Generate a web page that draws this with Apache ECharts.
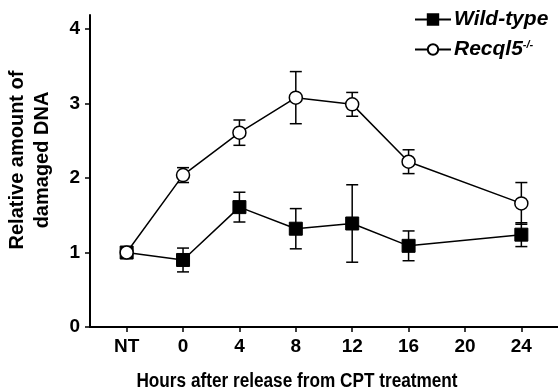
<!DOCTYPE html>
<html>
<head>
<meta charset="utf-8">
<script src="https://cdn.jsdelivr.net/npm/echarts@6/dist/echarts.min.js"></script>
<style>
html,body{margin:0;padding:0;background:#fff;}
#c{width:558px;height:392px;}
</style>
</head>
<body>
<div id="c"></div>
<script>
// Axis tick labels and their hour positions
const tickLabels = ['NT', '0', '4', '8', '12', '16', '20', '24'];
const tickHours = [-4, 0, 4, 8, 12, 16, 20, 24];
const yTicks = [0, 1, 2, 3, 4];

// Sampled time points (no sample at 20 h)
const pointLabels = ['NT', '0', '4', '8', '12', '16', '24'];

// Wild-type (filled squares)
const wildType = [1.00, 0.90, 1.61, 1.32, 1.39, 1.09, 1.24];
const wildTypeErr = [0.00, 0.16, 0.20, 0.27, 0.52, 0.20, 0.16];

// Recql5-/- (open circles)
const recql5 = [1.00, 2.04, 2.61, 3.08, 2.99, 2.22, 1.66];
const recql5Err = [0.00, 0.10, 0.17, 0.35, 0.16, 0.16, 0.28];

const FONT = "'Liberation Sans', Arial, sans-serif";
const hourOf = l => tickHours[tickLabels.indexOf(l)];
const labelOf = h => tickLabels[tickHours.indexOf(h)];

const pts = vals => pointLabels.map((l, i) => [hourOf(l), vals[i]]);
const errs = (vals, e) => pointLabels.map((l, i) => [hourOf(l), vals[i] - e[i], vals[i] + e[i]]);

function errRender(params, api) {
  const x = api.value(0);
  const lo = api.coord([x, api.value(1)]);
  const hi = api.coord([x, api.value(2)]);
  const cw = 6;
  const st = { stroke: '#000', lineWidth: 1.5 };
  return {
    type: 'group',
    children: [
      { type: 'line', shape: { x1: lo[0], y1: lo[1], x2: hi[0], y2: hi[1] }, style: st },
      { type: 'line', shape: { x1: lo[0] - cw, y1: lo[1], x2: lo[0] + cw, y2: lo[1] }, style: st },
      { type: 'line', shape: { x1: hi[0] - cw, y1: hi[1], x2: hi[0] + cw, y2: hi[1] }, style: st }
    ]
  };
}

const chart = echarts.init(document.getElementById('c'), null, { renderer: 'canvas' });
chart.setOption({
  animation: false,
  backgroundColor: '#fff',
  grid: { left: 90, right: 0, top: 15, bottom: 65 },
  legend: {
    orient: 'vertical',
    left: 409,
    top: 4,
    itemWidth: 36,
    itemHeight: 13,
    itemGap: 9,
    data: ['Wild-type', 'Recql5-/-'],
    formatter: n => n === 'Recql5-/-' ? '{a|Recql5}{s|-/-}' : '{a|' + n + '}',
    textStyle: {
      padding: [0, 0, 0, -2],
      rich: {
        a: { fontFamily: FONT, fontWeight: 'bold', fontStyle: 'italic', fontSize: 21, color: '#000' },
        s: { fontFamily: FONT, fontWeight: 'bold', fontStyle: 'italic', fontSize: 11, color: '#000', verticalAlign: 'top', padding: [0, 0, 10, 0] }
      }
    }
  },
  xAxis: {
    type: 'value',
    min: -6.6,
    max: 26.6,
    splitLine: { show: false },
    axisLine: { show: true, onZero: false, lineStyle: { color: '#000', width: 2 } },
    axisTick: { show: true, inside: false, length: 5, lineStyle: { color: '#000', width: 1.5 }, customValues: tickHours },
    axisLabel: {
      customValues: tickHours,
      formatter: v => labelOf(v),
      margin: 10,
      fontFamily: FONT, fontWeight: 'bold', fontSize: 19, color: '#000'
    }
  },
  yAxis: {
    type: 'value',
    min: 0,
    max: 4.19,
    splitLine: { show: false },
    axisLine: { show: true, onZero: false, lineStyle: { color: '#000', width: 2 } },
    axisTick: { show: true, inside: false, length: 5, lineStyle: { color: '#000', width: 1.5 }, customValues: yTicks },
    axisLabel: {
      customValues: yTicks,
      margin: 10,
      fontFamily: FONT, fontWeight: 'bold', fontSize: 19, color: '#000'
    }
  },
  graphic: [
    {
      type: 'text', x: 30, y: 160, rotation: Math.PI / 2,
      style: {
        text: 'Relative amount of\ndamaged DNA',
        font: "bold 20px 'Liberation Sans', Arial, sans-serif",
        fill: '#000', textAlign: 'center', textVerticalAlign: 'middle', lineHeight: 25
      }
    },
    {
      type: 'text', x: 297, y: 381, scaleX: 0.86, originX: 0,
      style: {
        text: 'Hours after release from CPT treatment',
        font: "bold 20px 'Liberation Sans', Arial, sans-serif",
        fill: '#000', textAlign: 'center', textVerticalAlign: 'middle'
      }
    }
  ],
  series: [
    {
      type: 'custom', name: 'wtErr', renderItem: errRender, data: errs(wildType, wildTypeErr), z: 2, silent: true
    },
    {
      type: 'custom', name: 'rqErr', renderItem: errRender, data: errs(recql5, recql5Err), z: 2, silent: true
    },
    {
      type: 'line', name: 'Wild-type', data: pts(wildType), z: 3,
      symbol: 'rect', symbolSize: 13,
      lineStyle: { color: '#000', width: 1.5 },
      itemStyle: { color: '#000', borderColor: '#000', borderWidth: 1 }
    },
    {
      type: 'line', name: 'Recql5-/-', data: pts(recql5), z: 4,
      symbol: 'circle', symbolSize: 13, showAllSymbol: true,
      lineStyle: { color: '#000', width: 1.5 },
      itemStyle: { color: '#fff', borderColor: '#000', borderWidth: 1.5 }
    }
  ]
});
</script>
</body>
</html>
